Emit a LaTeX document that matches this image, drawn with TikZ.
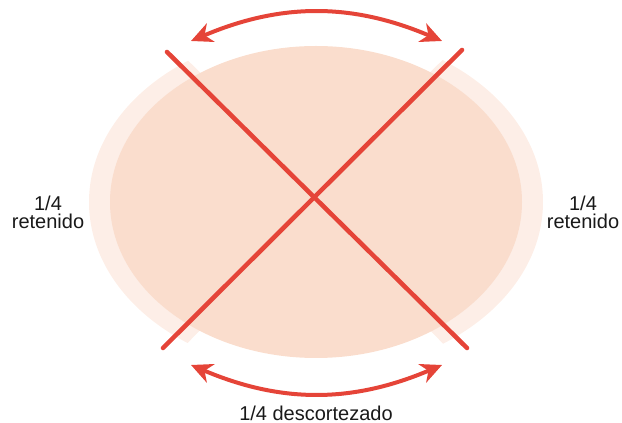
\documentclass[tikz,border=0pt]{standalone}
\usepackage{fontspec}
\setmainfont{Liberation Sans}
\usetikzlibrary{arrows.meta}
\definecolor{cutred}{RGB}{229,68,56}
\definecolor{peach}{RGB}{250,221,205}
\definecolor{peachlight}{RGB}{253,238,231}
\tikzset{
  cutline/.style={line width=3.4pt, cutred, line cap=round},
  turnarrow/.style={line width=3pt, cutred,
    {Stealth[length=16pt,width=15pt,inset=5pt]}-{Stealth[length=16pt,width=15pt,inset=5pt]}},
  lbl/.style={font=\fontsize{15}{13.5}\selectfont, align=center, text=black!90}
}
\begin{document}
\begin{tikzpicture}[x=0.75pt,y=-0.75pt]
  \useasboundingbox (0,0) rectangle (622,423);

  % retained bark, left and right quarters
  \begin{scope}
    \clip[rounded corners=12] (329,198) -- (54,-70) -- (-10,-70) -- (-10,480) -- (54,480) -- cycle
          (301,198) -- (576,-70) -- (640,-70) -- (640,480) -- (576,480) -- cycle;
    \fill[peachlight] (316,202) ellipse [x radius=227, y radius=171];
  \end{scope}
  \fill[peach] (316,202) ellipse [x radius=206, y radius=156];

  % cutting lines
  \coordinate (tl) at (167,52);
  \coordinate (br) at (467,348);
  \coordinate (tr) at (462,50);
  \coordinate (bl) at (163,348);
  \draw[cutline] (tl) -- (br);
  \draw[cutline] (tr) -- (bl);

  % arrows
  \coordinate (topL) at (191,41);
  \coordinate (topR) at (442,41);
  \coordinate (botL) at (191,365);
  \coordinate (botR) at (442,365);
  \draw[turnarrow] (topL) to[bend left=23] (topR);
  \draw[turnarrow] (botL) to[bend right=23] (botR);

  \node[lbl] (left) at (48,212) {1/4\\retenido};
  \node[lbl] (right) at (583,212) {1/4\\retenido};
  \node[lbl] (bottom) at (316,413) {1/4 descortezado};
\end{tikzpicture}
\end{document}
